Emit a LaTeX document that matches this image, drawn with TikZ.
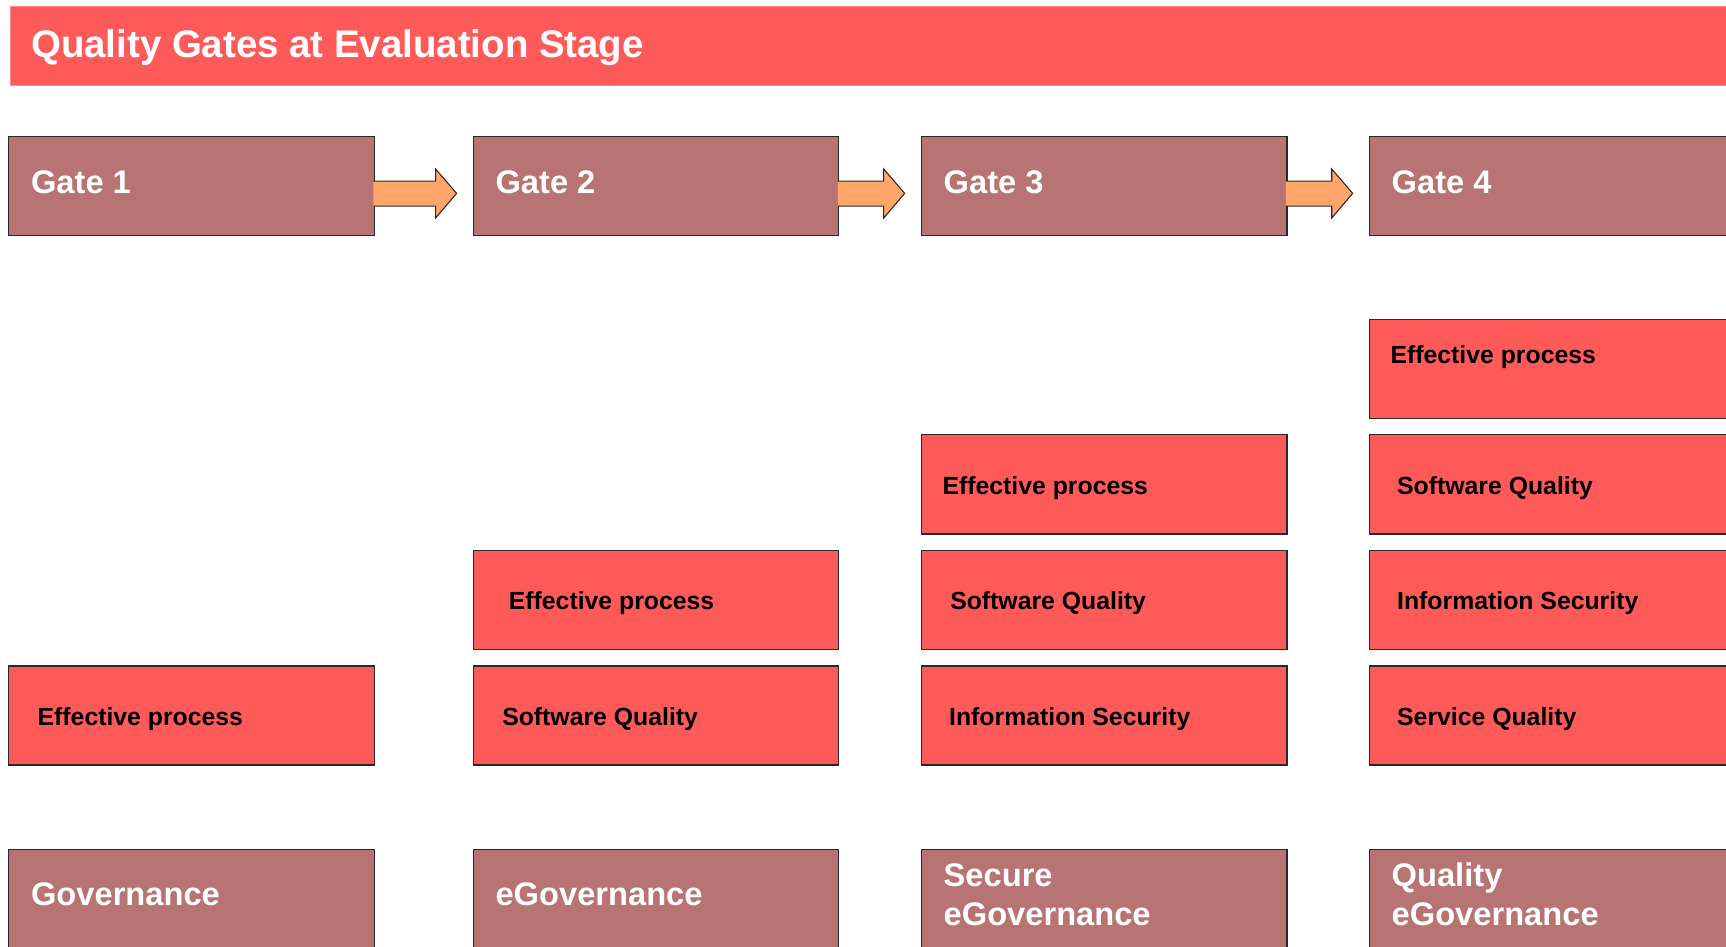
\documentclass[tikz,border=0pt]{standalone}
\usepackage{fontspec}
\setmainfont{Liberation Sans}
\usetikzlibrary{calc}
\definecolor{titlered}{RGB}{255,90,90}
\definecolor{gatebrown}{RGB}{184,115,115}
\definecolor{arroworange}{RGB}{255,166,107}
\definecolor{edgegray}{RGB}{40,40,40}
\tikzset{
  box/.style={draw=edgegray, line width=1pt, minimum width=274.1pt, minimum height=74.3pt,
    anchor=north west, inner sep=0pt, outer sep=0pt},
  gatebox/.style={box, fill=gatebrown},
  itembox/.style={box, fill=titlered},
  gatetext/.style={anchor=base west, inner sep=0pt, text=white,
    font=\fontsize{24.5}{29.3}\selectfont\bfseries, align=left},
  itemtext/.style={anchor=base west, inner sep=0pt, text=black,
    font=\fontsize{18.6}{22}\selectfont\bfseries},
  titletext/.style={anchor=base west, inner sep=0pt, text=white,
    font=\fontsize{28.8}{34}\selectfont\bfseries},
  flow/.style={draw=edgegray, line width=0.8pt, fill=arroworange, line join=miter},
}
\begin{document}
\begin{tikzpicture}[x=0.75pt,y=-0.75pt]
\useasboundingbox (0,0) rectangle (1726,946);
\clip (0,0) rectangle (1726,946);
% title
\node[fill=titlered, draw=titlered!70, line width=0.5pt, anchor=north west, inner sep=0pt,
      minimum width=1295pt, minimum height=59.6pt] (title) at (10,5.5) {};
\node[titletext] (titlet) at (31,57) {Quality Gates at Evaluation Stage};
% gates
\node[gatebox] (g1) at (8.8,136.5) {};
\node[gatebox] (g2) at (473.3,136.5) {};
\node[gatebox] (g3) at (921.4,136.5) {};
\node[gatebox] (g4) at (1369.4,136.5) {};
\node[gatetext] (g1t) at ([shift={(22,57)}]g1.north west) {Gate 1};
\node[gatetext] (g2t) at ([shift={(22,57)}]g2.north west) {Gate 2};
\node[gatetext] (g3t) at ([shift={(22,57)}]g3.north west) {Gate 3};
\node[gatetext] (g4t) at ([shift={(22,57)}]g4.north west) {Gate 4};
% arrows between gates
\foreach \a/\b in {g1/g2,g2/g3,g3/g4}{
  \draw[flow] ([shift={(-1,-5)}]\a.east) -- ([shift={(-37.7,-5)}]\b.west)
    -- ([shift={(-37.7,-17)}]\b.west) -- ([shift={(-16.7,7.3)}]\b.west)
    -- ([shift={(-37.7,32)}]\b.west) -- ([shift={(-37.7,20)}]\b.west)
    -- ([shift={(-1,20)}]\a.east);
}
% column 1
\node[itembox] (c1d) at (8.8,666) {};
\node[itemtext] (c1dt) at ([shift={(28.6,59.5)}]c1d.north west) {Effective process};
% column 2
\node[itembox] (c2c) at (473.3,550.4) {};
\node[itembox] (c2d) at (473.3,666) {};
\node[itemtext] (c2ct) at ([shift={(35.3,59.5)}]c2c.north west) {Effective process};
\node[itemtext] (c2dt) at ([shift={(28.7,59.5)}]c2d.north west) {Software Quality};
% column 3
\node[itembox] (c3b) at (921.4,434.8) {};
\node[itembox] (c3c) at (921.4,550.4) {};
\node[itembox] (c3d) at (921.4,666) {};
\node[itemtext] (c3bt) at ([shift={(20.9,59.5)}]c3b.north west) {Effective process};
\node[itemtext] (c3ct) at ([shift={(28.6,59.5)}]c3c.north west) {Software Quality};
\node[itemtext] (c3dt) at ([shift={(27.5,59.5)}]c3d.north west) {Information Security};
% column 4
\node[itembox] (c4a) at (1369.4,319.2) {};
\node[itembox] (c4b) at (1369.4,434.8) {};
\node[itembox] (c4c) at (1369.4,550.4) {};
\node[itembox] (c4d) at (1369.4,666) {};
\node[itemtext] (c4at) at ([shift={(20.9,44)}]c4a.north west) {Effective process};
\node[itemtext] (c4bt) at ([shift={(27.5,59.5)}]c4b.north west) {Software Quality};
\node[itemtext] (c4ct) at ([shift={(27.5,59.5)}]c4c.north west) {Information Security};
\node[itemtext] (c4dt) at ([shift={(27.5,59.5)}]c4d.north west) {Service Quality};
% bottom row
\node[gatebox] (b1) at (8.8,849.8) {};
\node[gatebox] (b2) at (473.3,849.8) {};
\node[gatebox] (b3) at (921.4,849.8) {};
\node[gatebox] (b4) at (1369.4,849.8) {};
\node[gatetext] (b1t) at ([shift={(22,56)}]b1.north west) {Governance};
\node[gatetext] (b2t) at ([shift={(22,56)}]b2.north west) {eGovernance};
\node[gatetext] (b3t) at ([shift={(22,76)}]b3.north west) {Secure\\eGovernance};
\node[gatetext] (b4t) at ([shift={(22,76)}]b4.north west) {Quality\\eGovernance};
\end{tikzpicture}
\end{document}
